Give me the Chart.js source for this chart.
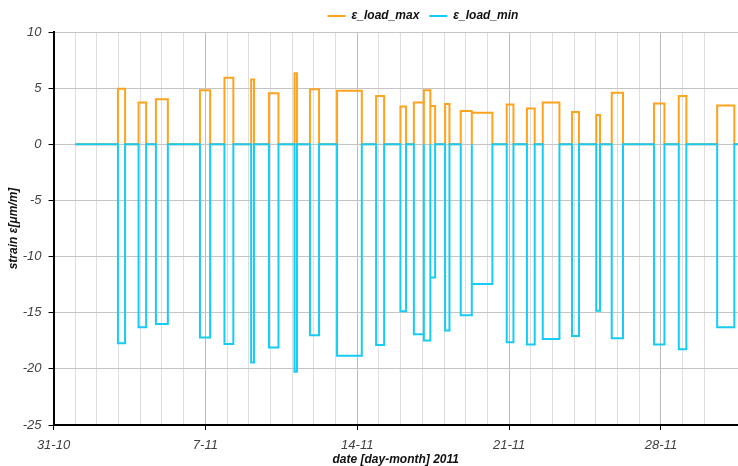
<!DOCTYPE html>
<html>
<head>
<meta charset="utf-8">
<script src="https://cdn.jsdelivr.net/npm/chart.js@4.4.0/dist/chart.umd.min.js"></script>
<style>
html, body { margin: 0; padding: 0; background: #fff; }
</style>
</head>
<body>
<canvas id="strainChart" width="738" height="466"></canvas>
<script>
// x values are days after 31-10-2011
const firstDay = 1;
const lastDay = 33;

const pulseStart = [2.97, 3.92, 4.72, 6.75, 7.88, 9.11, 9.93, 11.11, 11.82, 13.07, 14.87, 15.99, 16.61, 17.07,
    17.37, 18.05, 18.77, 19.28, 20.89, 21.82, 22.55, 23.90, 25.02, 25.73, 27.68, 28.82, 30.59];
const pulseEnd = [3.30, 4.27, 5.27, 7.22, 8.29, 9.24, 10.37, 11.22, 12.24, 14.21, 15.24, 16.25, 17.07, 17.37,
    17.59, 18.25, 19.28, 20.23, 21.20, 22.18, 23.32, 24.22, 25.19, 26.25, 28.16, 29.17, 31.38];
const loadMax = [4.95, 3.73, 4.02, 4.82, 5.92, 5.77, 4.55, 6.33, 4.91, 4.76, 4.29, 3.37, 3.73, 4.82,
    3.40, 3.58, 2.96, 2.81, 3.55, 3.19, 3.73, 2.87, 2.60, 4.58, 3.64, 4.29, 3.46];
const loadMin = [-17.72, -16.30, -16.00, -17.21, -17.78, -19.43, -18.10, -20.26, -17.00, -18.84, -17.87, -14.88, -16.92, -17.48,
    -11.86, -16.59, -15.23, -12.45, -17.63, -17.84, -17.33, -17.07, -14.82, -17.27, -17.84, -18.25, -16.30];

const weekLabels = ['31-10', '7-11', '14-11', '21-11', '28-11'];

function stepSeries(values) {
    const pts = [{ x: firstDay, y: 0 }];
    for (let i = 0; i < values.length; i++) {
        pts.push({ x: pulseStart[i], y: 0 });
        pts.push({ x: pulseStart[i], y: values[i] });
        pts.push({ x: pulseEnd[i], y: values[i] });
        pts.push({ x: pulseEnd[i], y: 0 });
    }
    pts.push({ x: lastDay, y: 0 });
    return pts;
}

const fontFamily = '"Liberation Sans", Arial, sans-serif';

// move the centred legend a bit to the right, as in the original
const legendShift = {
    id: 'legendShift',
    afterLayout(chart) {
        chart.legend.left += 51;
        chart.legend.right += 51;
    }
};

const ctx = document.getElementById('strainChart').getContext('2d');

new Chart(ctx, {
    type: 'line',
    data: {
        datasets: [{
            label: 'ε_load_min',
            data: stepSeries(loadMin),
            borderColor: '#14ccf5',
            backgroundColor: '#14ccf5',
            borderWidth: 2,
            pointRadius: 0,
            fill: false
        }, {
            label: 'ε_load_max',
            data: stepSeries(loadMax),
            borderColor: '#ffa21c',
            backgroundColor: '#ffa21c',
            borderWidth: 2,
            pointRadius: 0,
            fill: false
        }]
    },
    options: {
        responsive: false,
        animation: false,
        layout: { padding: { left: 6, right: 0, top: 0, bottom: 0 } },
        plugins: {
            tooltip: { enabled: false },
            legend: {
                reverse: true,
                labels: {
                    usePointStyle: true,
                    pointStyle: 'line',
                    pointStyleWidth: 18,
                    padding: 10,
                    color: '#111',
                    font: { family: fontFamily, size: 12, style: 'italic', weight: 'bold' }
                }
            }
        },
        scales: {
            x: {
                type: 'linear',
                min: 0,
                max: 31.55,
                afterBuildTicks: (scale) => {
                    scale.ticks = scale.ticks.filter(t => Number.isInteger(t.value));
                },
                afterFit: (scale) => {
                    scale.height = 41;
                },
                ticks: {
                    stepSize: 1,
                    autoSkip: false,
                    maxRotation: 0,
                    padding: 9,
                    color: '#404040',
                    font: { family: fontFamily, size: 13, style: 'italic', lineHeight: 1 },
                    callback: (v) => (v % 7 === 0 ? weekLabels[v / 7] : '')
                },
                grid: {
                    color: (c) => (c.tick && c.tick.value % 7 === 0 ? '#bcbcbc' : '#dedede'),
                    tickColor: (c) => (c.tick && c.tick.value % 7 === 0 ? '#000' : 'rgba(0,0,0,0)'),
                    tickLength: 5
                },
                border: { color: '#000', width: 2 },
                title: {
                    display: true,
                    text: 'date [day-month] 2011',
                    color: '#111',
                    padding: { top: 0, bottom: 0 },
                    font: { family: fontFamily, size: 12, style: 'italic', weight: 'bold', lineHeight: 1 }
                }
            },
            y: {
                min: -25,
                max: 10,
                afterFit: (scale) => {
                    scale.width = 47.5;
                },
                ticks: {
                    stepSize: 5,
                    padding: 7,
                    color: '#404040',
                    font: { family: fontFamily, size: 13, style: 'italic' }
                },
                grid: {
                    color: '#c4c4c4',
                    tickColor: '#000',
                    tickLength: 5
                },
                border: { color: '#000', width: 2 },
                title: {
                    display: true,
                    text: 'strain ε[μm/m]',
                    color: '#111',
                    padding: { top: 0, bottom: 0 },
                    font: { family: fontFamily, size: 12, style: 'italic', weight: 'bold' }
                }
            }
        }
    },
    plugins: [legendShift]
});
</script>
</body>
</html>
